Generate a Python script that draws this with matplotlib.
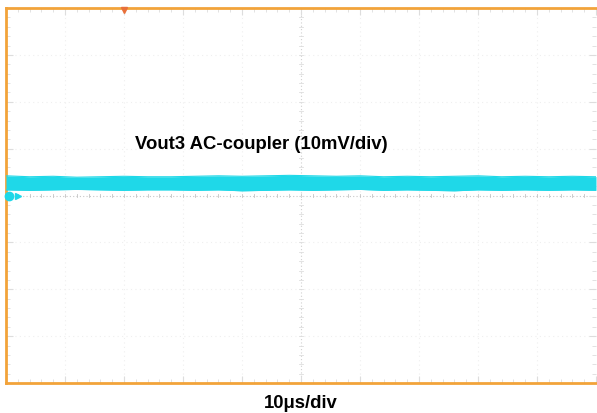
import matplotlib
matplotlib.use("Agg")
import matplotlib.pyplot as plt
import numpy as np

t_us = [0, 4, 8, 12, 16, 20, 24, 28, 32, 36, 40, 44, 48, 52, 56, 60, 64, 68, 72, 76, 80, 84, 88, 92, 96, 100]
v_upper = [4.2, 4.0, 4.1, 3.9, 4.0, 4.1, 4.0, 4.0, 4.1, 4.2, 4.1, 4.2, 4.3, 4.2, 4.1, 4.2, 4.0, 4.1, 4.0, 4.1, 4.2, 4.0, 4.1, 4.0, 4.1, 4.0]
v_lower = [1.2, 1.1, 1.2, 1.3, 1.2, 1.1, 1.2, 1.2, 1.1, 1.2, 1.0, 1.1, 1.2, 1.1, 1.2, 1.3, 1.1, 1.2, 1.1, 1.0, 1.2, 1.1, 1.2, 1.1, 1.2, 1.1]

label_trace = "Vout3 AC-coupler (10mV/div)"
label_time = "10\u03bcs/div"
x_div = 10.0   # µs per division
y_div = 10.0   # mV per division
n_xdiv, n_ydiv = 10, 8
trigger_t = 20.0

orange = "#F2A33A"
cyan = "#1FD8E8"

fig = plt.figure(figsize=(5.97, 4.13), dpi=100)
ax = fig.add_axes([6/597, 30/413, 590/597, 375/413])
ax.set_xlim(0, n_xdiv * x_div)
ax.set_ylim(-n_ydiv / 2 * y_div, n_ydiv / 2 * y_div)

# faint grid
for i in range(1, n_xdiv):
    xv = i * x_div
    if i == n_xdiv // 2:
        ax.axvline(xv, color="#d0d0d0", lw=0.8, ls=(0, (1, 2)), zorder=1)
    else:
        ax.axvline(xv, color="#efefef", lw=0.8, ls=(0, (1, 3)), zorder=1)
for j in range(1, n_ydiv):
    yv = -n_ydiv / 2 * y_div + j * y_div
    if j == n_ydiv // 2:
        ax.axhline(yv, color="#c8c8c8", lw=0.8, ls=(0, (1, 2)), zorder=1)
    else:
        ax.axhline(yv, color="#efefef", lw=0.8, ls=(0, (1, 3)), zorder=1)

# minor ticks on center lines
for k in range(n_xdiv * 5 + 1):
    xv = k * x_div / 5
    ax.plot([xv, xv], [-0.35, 0.35], color="#c4c4c4", lw=0.6, zorder=1)
for k in range(n_ydiv * 5 + 1):
    yv = -n_ydiv / 2 * y_div + k * y_div / 5
    ax.plot([n_xdiv / 2 * x_div - 0.4, n_xdiv / 2 * x_div + 0.4], [yv, yv], color="#dedede", lw=0.6, zorder=1)

# trace band
ax.fill_between(t_us, v_lower, v_upper, color=cyan, lw=0, zorder=3)
ax.plot(t_us, v_upper, color=cyan, lw=0.8, zorder=3)
ax.plot(t_us, v_lower, color=cyan, lw=0.8, zorder=3)

# border
for side in ["left", "top", "bottom"]:
    ax.spines[side].set_color(orange)
    ax.spines[side].set_linewidth(2.0)
ax.spines["right"].set_visible(False)
ax.set_xticks([i * x_div for i in range(n_xdiv + 1)])
ax.set_xticks([k * x_div / 5 for k in range(n_xdiv * 5 + 1)], minor=True)
ax.set_yticks([-40 + j * y_div for j in range(n_ydiv + 1)])
ax.set_yticks([-40 + k * y_div / 5 for k in range(n_ydiv * 5 + 1)], minor=True)
ax.tick_params(which="both", direction="in", labelbottom=False, labelleft=False,
               top=True, right=True, color="#dddddd")
ax.tick_params(which="major", length=5, width=0.8)
ax.tick_params(which="minor", length=3, width=0.6)

# markers
ax.plot([trigger_t], [39.6], marker="v", color="#E8703A", ms=5, clip_on=False, zorder=5)
ax.plot([0.5], [0.0], marker="o", color=cyan, ms=6, clip_on=False, zorder=5)
ax.plot([2.0], [0.0], marker=">", color=cyan, ms=4, clip_on=False, zorder=5)

fs = 13.3
ax.text(0.2186, 0.637, label_trace, transform=ax.transAxes, fontsize=fs,
        fontweight="bold", family="Liberation Sans", ha="left", va="center", zorder=6)
fig.text(301/597, 1 - 403/413, label_time, fontsize=fs, fontweight="bold",
         family="Liberation Sans", ha="center", va="center")

fig.savefig("out.png", dpi=100, facecolor="white")
